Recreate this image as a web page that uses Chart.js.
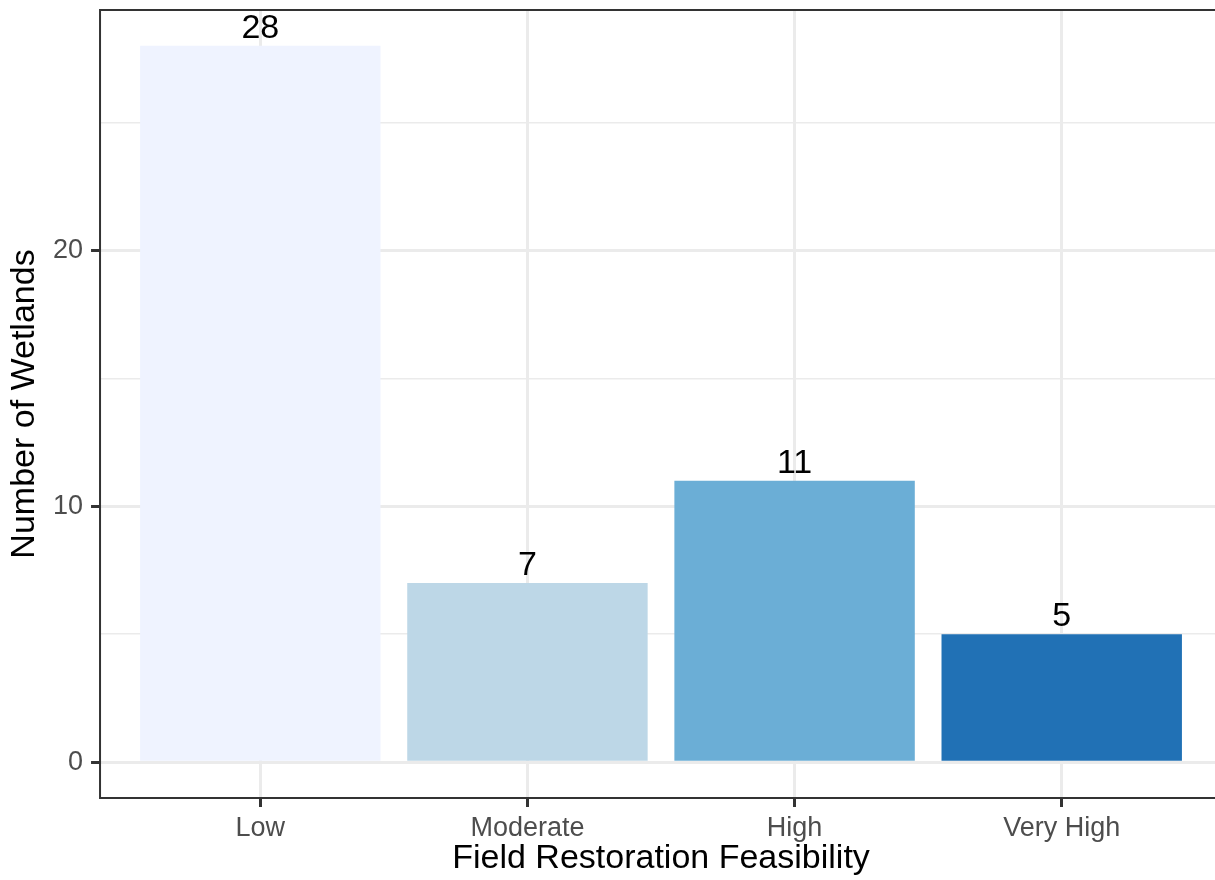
<!DOCTYPE html>
<html><head><meta charset="utf-8">
<script src="https://cdn.jsdelivr.net/npm/chart.js@4"></script>
<style>
html,body{margin:0;padding:0;background:#fff;overflow:hidden;}
#clip{position:absolute;left:0;top:0;width:1215px;height:880px;overflow:hidden;}
#wrap{position:absolute;left:0;top:0;width:1224px;height:880px;}
</style></head><body>
<div id="clip"><div id="wrap"><canvas id="c" width="1224" height="880"></canvas></div></div>
<script>
const categories = ['Low', 'Moderate', 'High', 'Very High'];
const counts = [28, 7, 11, 5];
const barColors = ['#EFF3FF', '#BDD7E7', '#6BAED6', '#2171B5'];
const yTicks = [0, 5, 10, 15, 20, 25];
const yLabelTicks = [0, 10, 20];
const xTitle = 'Field Restoration Feasibility';
const yTitle = 'Number of Wetlands';

const FONT = 'Liberation Sans, Arial, sans-serif';

const frame = {
  id: 'frame',
  afterDatasetsDraw(chart) {
    const {ctx, chartArea: a} = chart;
    const meta = chart.getDatasetMeta(0);
    ctx.save();
    ctx.font = '34px ' + FONT;
    ctx.fillStyle = '#000';
    ctx.textAlign = 'center';
    ctx.textBaseline = 'alphabetic';
    meta.data.forEach((bar, i) => {
      ctx.fillText(String(counts[i]), bar.x, bar.y - 8);
    });
    ctx.strokeStyle = '#333333';
    ctx.lineWidth = 2;
    ctx.strokeRect(a.left, a.top, a.right - a.left, a.bottom - a.top);
    ctx.restore();
  }
};

new Chart(document.getElementById('c'), {
  type: 'bar',
  data: {
    datasets: [{
      data: counts.map((v, i) => ({x: i + 1, y: v})),
      backgroundColor: barColors,
      borderWidth: 0,
      barPercentage: 0.9,
      categoryPercentage: 1.0
    }]
  },
  options: {
    responsive: false,
    animation: false,
    devicePixelRatio: 1,
    layout: {padding: {top: 10, right: 2, left: 0, bottom: 0}},
    plugins: {legend: {display: false}, tooltip: {enabled: false}},
    scales: {
      x: {
        type: 'linear',
        offset: false,
        min: 0.4,
        max: 4.6,
        afterBuildTicks: s => { s.ticks = categories.map((_, i) => ({value: i + 1})); },
        ticks: {
          callback: v => categories[Math.round(v) - 1] ?? '',
          font: {family: FONT, size: 27, lineHeight: 1},
          color: '#4D4D4D',
          padding: 8,
          autoSkip: false,
          maxRotation: 0
        },
        grid: {offset: false, color: '#EBEBEB', lineWidth: 3, tickColor: '#333333', tickWidth: 3, tickLength: 9, drawTicks: true},
        border: {display: false},
        title: {display: true, text: xTitle, color: '#000', font: {family: FONT, size: 34, lineHeight: 1}, padding: {top: -8, bottom: 4}}
      },
      y: {
        type: 'linear',
        min: -1.4,
        max: 29.4,
        afterBuildTicks: s => { s.ticks = yTicks.map(v => ({value: v})); },
        ticks: {
          callback: v => yLabelTicks.includes(v) ? String(v) : '',
          font: ctx => ({family: FONT, size: yLabelTicks.includes(ctx.tick && ctx.tick.value) ? 27 : 1, lineHeight: 1}),
          color: '#4D4D4D',
          padding: 8
        },
        grid: {
          color: '#EBEBEB',
          lineWidth: ctx => yLabelTicks.includes(ctx.tick && ctx.tick.value) ? 3 : 1.6,
          tickColor: ctx => yLabelTicks.includes(ctx.tick && ctx.tick.value) ? '#333333' : 'rgba(0,0,0,0)',
          tickWidth: 3,
          tickLength: 9,
          drawTicks: true
        },
        border: {display: false},
        title: {display: true, text: yTitle, color: '#000', font: {family: FONT, size: 34, lineHeight: 1}, padding: {top: 8, bottom: 3}}
      }
    }
  },
  plugins: [frame]
});
</script>
</body></html>
